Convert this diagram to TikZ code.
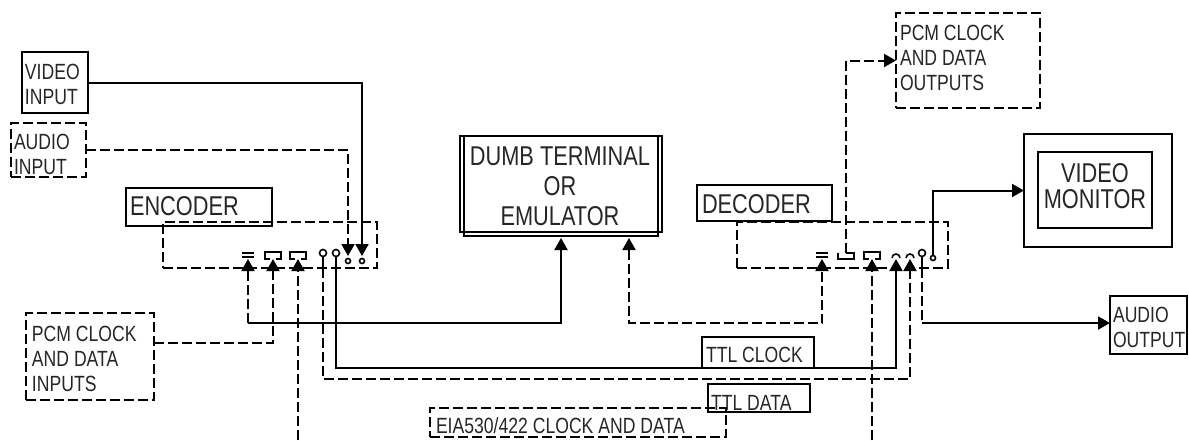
\documentclass[tikz,border=0pt]{standalone}
\usepackage{fontspec}
\setmainfont{Liberation Sans}[FakeStretch=0.8]
\usetikzlibrary{arrows.meta,positioning}

\begin{document}
\begin{tikzpicture}[x=0.5pt,y=-0.5pt,line width=1pt,
  box/.style={draw,inner sep=0pt,outer sep=0pt},
  dbox/.style={box,dash pattern=on 5pt off 2pt},
  sig/.style={dash pattern=on 5pt off 2pt},
  pointer/.style={-{Triangle[width=6.5pt,length=6pt]}},
  twoway/.style={{Triangle[width=6.5pt,length=6pt]}-{Triangle[width=6.5pt,length=6pt]}},
  txt/.style={inner sep=0pt,align=left,text=black!85,font=\fontsize{11}{12.5}\selectfont},
  bigtxt/.style={txt,font=\fontsize{13.6}{15}\selectfont}]

  \useasboundingbox (0,0) rectangle (1189,440);

  % boxes
  \node[box,  minimum width=33pt,   minimum height=30.5pt] (vin)    at (55,82.5)   {};
  \node[dbox, minimum width=37.5pt, minimum height=27pt]   (ain)    at (48.5,150)  {};
  \node[box,  minimum width=73pt,   minimum height=19pt]   (enclbl) at (199,207)   {};
  \node[dbox, minimum width=107pt,  minimum height=23pt]   (enc)    at (270,245)   {};
  \node[dbox, minimum width=64pt,   minimum height=43.5pt] (pcmin)  at (90,356.5)  {};
  \node[box,  minimum width=101pt,  minimum height=48pt]   (term)   at (561,184)   {};
  \draw ([xshift=2pt]term.north west) rectangle ([xshift=-2pt,yshift=-2pt]term.south east);
  \node[box,  minimum width=67.5pt, minimum height=18pt]   (declbl) at (764.5,203) {};
  \node[dbox, minimum width=105.5pt,minimum height=23pt]   (dec)    at (842.5,245) {};
  \node[dbox, minimum width=72pt,   minimum height=47.5pt] (pcmout) at (968,60.5)  {};
  \node[box,  minimum width=74pt,   minimum height=56.5pt] (mon)    at (1098,190.5){};
  \node[box,  minimum width=57pt,   minimum height=38pt]   (monin)  at (1095,190)  {};
  \node[box,  minimum width=38.5pt, minimum height=29pt]   (aout)   at (1148.5,325){};
  \node[box,  minimum width=56pt,   minimum height=15.5pt] (ttlclk) at (758,352.5) {};
  \node[box,  minimum width=51pt,   minimum height=14pt]   (ttldat) at (759,398)   {};
  \node[dbox, minimum width=148pt,  minimum height=14.5pt] (eia)    at (578,422.5) {};

  % texts
  \node[txt,anchor=north west] (vinT)    at (24,63)   {VIDEO\\INPUT};
  \node[txt,anchor=north west] (ainT)    at (13,133)  {AUDIO\\INPUT};
  \node[bigtxt,anchor=north west] (encT) at (129,196) {ENCODER};
  \node[txt,anchor=north west] (pcminT)  at (31,325)  {PCM CLOCK\\AND DATA\\INPUTS};
  \node[bigtxt,anchor=north,align=center] (termT) at (560,146) {DUMB TERMINAL\\OR\\EMULATOR};
  \node[bigtxt,anchor=north west] (decT) at (701,194) {DECODER};
  \node[txt,anchor=north west] (pcmoutT) at (899,24)  {PCM CLOCK\\AND DATA\\OUTPUTS};
  \node[bigtxt,anchor=north,align=center,font=\fontsize{13.6}{13}\selectfont] (monT) at (1095,163) {VIDEO\\MONITOR};
  \node[txt,anchor=north west] (aoutT)   at (1112,306) {AUDIO\\OUTPUT};
  \node[txt,anchor=north west] (clkT)    at (705,346) {TTL CLOCK};
  \node[txt,anchor=north west] (datT)    at (710,394) {TTL DATA};
  \node[txt,anchor=north west] (eiaT)    at (435,417) {EIA530/422 CLOCK AND DATA};

  % ports
  \coordinate (eA) at (248,259);
  \coordinate (eB) at (273,259);
  \coordinate (eC) at (298,259);
  \coordinate (eD) at (323,268);
  \coordinate (eE) at (336,268);
  \coordinate (eF) at (348,256);
  \coordinate (eG) at (362,256);
  \coordinate (dA) at (822,259);
  \coordinate (dB) at (846,253);
  \coordinate (dC) at (872,259);
  \coordinate (dD) at (896,259);
  \coordinate (dE) at (910,259);
  \coordinate (dF) at (922,268);
  \coordinate (dG) at (933,255.5);
  \coordinate (tA) at ([yshift=-3pt]term.south);
  \coordinate (tB) at ([xshift=34pt,yshift=-3pt]term.south);
  \coordinate (eiaL) at (298,440);
  \coordinate (eiaR) at (872,440);
  \coordinate (busT) at (0,323);
  \coordinate (busC) at (0,368);
  \coordinate (busD) at (0,379);

  % port symbols
  \begin{scope}[line width=0.8pt]
    \foreach \x in {248,822} {
      \draw (\x-6,253) -- (\x+6,253) (\x-6,257) -- (\x+6,257);
    }
    \foreach \x in {273,298,872} {
      \draw (\x-3,259) -- (\x-8,259) -- (\x-8,252) -- (\x+8,252) -- (\x+8,259) -- (\x+3,259);
    }
    \foreach \x in {323,336,922} {
      \draw (\x,256.5) -- (\x,268);
      \draw (\x,253) circle[radius=3.5];
    }
    \foreach \x in {348,362} {
      \draw (\x,261) circle[radius=2.5];
    }
    \foreach \x in {896,910} {
      \draw (\x-4,258) arc[start angle=180,end angle=360,radius=4];
    }
    \draw (933,258) circle[radius=2.5];
    \draw (838,253) -- (838,259) -- (854,259) -- (854,253) -- (846,253);
  \end{scope}

  % encoder side
  \draw[pointer] (vin.east) -| (eG);
  \draw[sig,pointer] (ain.east) -| (eF);
  \draw[sig,pointer] (eA |- busT) -- (eA);
  \draw[pointer] (eA |- busT) -| (tA);
  \draw[sig,pointer] ([yshift=6.75pt]pcmin.east) -| (eB);
  \draw[sig,pointer] (eiaL) -- (eC);
  \draw[sig,pointer] (eD) |- (busD -| dE) -- (dE);
  \draw[pointer] (eE) |- (busC -| dD) -- (dD);

  % decoder side
  \draw[sig,twoway] (tB) |- (busT -| dA) -- (dA);
  \draw[sig,pointer] (dB) |- (pcmout.west);
  \draw[sig,pointer] (eiaR) -- (dC);
  \draw[sig] (dF) -- (dF |- busT);
  \draw[pointer] (dF |- busT) -- (dF |- busT -| aout.west);
  \draw[pointer] (dG) |- (mon.west);
\end{tikzpicture}
\end{document}
